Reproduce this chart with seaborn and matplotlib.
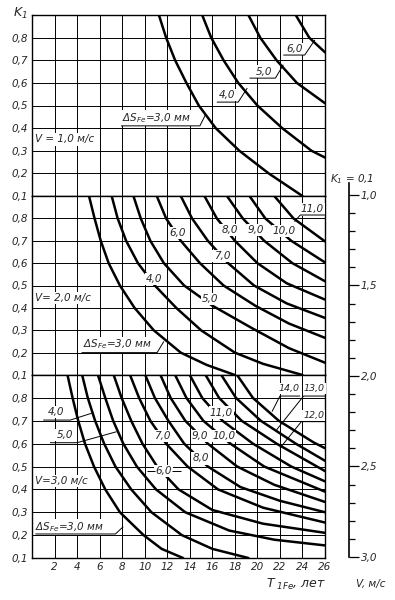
import numpy as np
import pandas as pd
import matplotlib
matplotlib.use("Agg")
import matplotlib.pyplot as plt
import seaborn as sns

# axes values
t_ticks = list(range(2, 27, 2))
k_ticks = [0.1, 0.2, 0.3, 0.4, 0.5, 0.6, 0.7, 0.8]
v_major = [1.0, 1.5, 2.0, 2.5, 3.0]
v_minor = [round(1.0 + 0.1 * i, 1) for i in range(21)]
speeds = ["1,0", "2,0", "3,0"]

# dS_Fe, mm -> (T_1Fe, years ; K_1)
top_curves = {
    3.0: ([11.26, 11.9, 12.7, 13.7, 14.8, 16.3, 18.4, 21.0, 24.0],
          [0.9, 0.8, 0.7, 0.6, 0.5, 0.4, 0.3, 0.2, 0.1]),
    4.0: ([15.1, 15.9, 17.0, 18.3, 20.0, 22.2, 24.8, 26.0],
          [0.9, 0.8, 0.7, 0.6, 0.5, 0.4, 0.3, 0.27]),
    5.0: ([19.2, 20.25, 21.7, 23.5, 26.0], [0.9, 0.8, 0.7, 0.6, 0.51]),
    6.0: ([23.4, 24.6, 26.0], [0.9, 0.8, 0.735]),
}
mid_curves = {
    3.0: ([5.06, 5.55, 6.1, 6.8, 7.8, 9.1, 10.8, 13.2, 15.5, 18.0],
          [0.9, 0.8, 0.7, 0.6, 0.5, 0.4, 0.3, 0.2, 0.145, 0.1]),
    4.0: ([7.07, 7.6, 8.35, 9.4, 10.9, 12.8, 15.0, 18.0, 20.5, 24.0],
          [0.9, 0.8, 0.7, 0.6, 0.5, 0.4, 0.3, 0.2, 0.15, 0.1]),
    5.0: ([9.0, 9.65, 10.5, 11.7, 13.5, 16.0, 19.5, 22.8, 26.0],
          [0.9, 0.8, 0.7, 0.6, 0.5, 0.41, 0.31, 0.22, 0.155]),
    6.0: ([11.07, 11.9, 13.2, 14.9, 17.0, 19.8, 22.8, 26.0],
          [0.9, 0.8, 0.7, 0.6, 0.5, 0.41, 0.33, 0.266]),
    7.0: ([13.2, 14.2, 15.6, 17.4, 19.7, 22.6, 26.0],
          [0.9, 0.8, 0.7, 0.6, 0.5, 0.42, 0.355]),
    8.0: ([15.3, 16.4, 18.0, 20.0, 22.6, 26.0],
          [0.9, 0.8, 0.7, 0.6, 0.51, 0.437]),
    9.0: ([17.3, 18.7, 20.6, 23.1, 26.0], [0.9, 0.8, 0.7, 0.6, 0.519]),
    10.0: ([19.3, 20.7, 23.0, 26.0], [0.9, 0.8, 0.7, 0.603]),
    11.0: ([21.5, 23.2, 26.0], [0.9, 0.8, 0.697]),
}
bot_curves = {
    3.0: ([3.15, 3.6, 4.1, 4.7, 5.5, 6.5, 7.8, 9.9, 11.5, 13.4],
          [0.9, 0.8, 0.7, 0.6, 0.5, 0.4, 0.3, 0.2, 0.14, 0.1]),
    4.0: ([4.45, 4.95, 5.6, 6.4, 7.4, 8.8, 10.6, 13.3, 16.0, 19.2],
          [0.9, 0.8, 0.7, 0.6, 0.5, 0.4, 0.3, 0.2, 0.14, 0.1]),
    5.0: ([5.85, 6.5, 7.2, 8.1, 9.3, 11.0, 13.6, 17.5, 21.5, 26.0],
          [0.9, 0.8, 0.7, 0.6, 0.5, 0.4, 0.3, 0.22, 0.18, 0.155]),
    6.0: ([7.25, 7.95, 8.8, 9.8, 11.1, 13.0, 16.0, 20.5, 26.0],
          [0.9, 0.8, 0.7, 0.6, 0.5, 0.4, 0.31, 0.25, 0.21]),
    7.0: ([8.7, 9.5, 10.5, 11.9, 13.8, 16.5, 20.5, 26.0],
          [0.9, 0.8, 0.7, 0.6, 0.5, 0.4, 0.32, 0.255]),
    8.0: ([10.05, 10.9, 12.1, 13.5, 15.6, 18.5, 22.0, 26.0],
          [0.9, 0.8, 0.7, 0.6, 0.5, 0.41, 0.35, 0.30]),
    9.0: ([11.4, 12.3, 13.6, 15.6, 18.2, 21.5, 26.0],
          [0.9, 0.8, 0.7, 0.6, 0.5, 0.42, 0.345]),
    10.0: ([12.7, 13.7, 15.2, 17.6, 20.6, 26.0], [0.9, 0.8, 0.7, 0.6, 0.5, 0.39]),
    11.0: ([14.0, 15.1, 16.9, 19.6, 23.0, 26.0], [0.9, 0.8, 0.7, 0.6, 0.5, 0.435]),
    12.0: ([15.4, 16.6, 18.6, 21.7, 26.0], [0.9, 0.8, 0.7, 0.6, 0.48]),
    13.0: ([16.8, 18.1, 20.3, 23.4, 26.0], [0.9, 0.8, 0.7, 0.6, 0.525]),
    14.0: ([18.2, 19.6, 21.9, 25.0, 26.0], [0.9, 0.8, 0.7, 0.605, 0.58]),
}


def comma(v):
    return f"{v:.1f}".replace(".", ",")


sns.set_theme(style="white")
plt.rcParams["font.family"] = ["DejaVu Sans"]
plt.rcParams["font.style"] = "italic"
plt.rcParams["mathtext.fontset"] = "dejavusans"
plt.rcParams["mathtext.default"] = "it"
FS = 7.5

W, H = 395, 600
fig = plt.figure(figsize=(W / 100, H / 100), dpi=100)


def box(l, t, r, b):
    return [l / W, 1 - b / H, (r - l) / W, (b - t) / H]


def tag(ax, s, x, y, ha="center", fs=FS):
    ax.text(x, y, s, ha=ha, va="center", fontsize=fs, zorder=6,
            bbox=dict(fc="white", ec="none", pad=0.8))


def line(ax, xs, ys):
    ax.plot(xs, ys, color="black", lw=0.7, zorder=7, solid_capstyle="butt")


panels = [(top_curves, 15, 196), (mid_curves, 196, 375), (bot_curves, 375, 558)]
axes = []
for i, (curves, t, b) in enumerate(panels):
    ax = fig.add_axes(box(32, t, 325, b))
    rows = [{"ds": ds, "T": x, "K": y}
            for ds, (xs, ys) in curves.items() for x, y in zip(xs, ys)]
    df = pd.DataFrame(rows)
    sns.lineplot(data=df, x="T", y="K", units="ds", estimator=None, sort=False,
                 color="black", lw=1.8, ax=ax, legend=False, zorder=3)
    ax.set_xlim(0, 26)
    ax.set_ylim(0.1, 0.9)
    ax.set_xticks([0] + t_ticks)
    ax.set_yticks(k_ticks + [0.9])
    ax.set_yticklabels([comma(v) for v in k_ticks] + [""], fontsize=FS)
    if i == 2:
        ax.set_xticklabels([""] + [str(v) for v in t_ticks], fontsize=FS)
    else:
        ax.set_xticklabels([])
    ax.tick_params(length=0, pad=3)
    ax.grid(True, color="black", lw=0.7)
    ax.set_axisbelow(True)
    for s in ax.spines.values():
        s.set_color("black")
        s.set_linewidth(1.0)
    ax.set_xlabel("")
    ax.set_ylabel("")
    axes.append(ax)

ds_text = r"$\Delta S_{Fe}$=3,0 мм"
a1, a2, a3 = axes

# top panel, V = 1,0
tag(a1, f"V = {speeds[0]} м/с", 0.3, 0.35, ha="left")
tag(a1, ds_text, 8.0, 0.445, ha="left")
line(a1, [7.9, 14.9, 15.4], [0.41, 0.41, 0.46])
tag(a1, "4,0", 17.3, 0.545)
line(a1, [16.4, 18.3, 19.1], [0.515, 0.515, 0.577])
tag(a1, "5,0", 20.6, 0.65)
line(a1, [19.3, 21.6, 22.3], [0.621, 0.621, 0.68])
tag(a1, "6,0", 23.3, 0.75)
line(a1, [22.3, 24.2, 25.1], [0.723, 0.723, 0.79])

# middle panel, V = 2,0
tag(a2, f"V= {speeds[1]} м/с", 0.3, 0.443, ha="left")
tag(a2, ds_text, 4.5, 0.236, ha="left")
line(a2, [4.4, 11.1, 11.7], [0.2, 0.2, 0.25])
for s, x, y in [("4,0", 10.85, 0.53), ("5,0", 15.8, 0.44), ("6,0", 12.95, 0.734),
                ("7,0", 16.85, 0.633), ("8,0", 17.55, 0.749), ("9,0", 19.9, 0.749),
                ("10,0", 22.4, 0.745)]:
    tag(a2, s, x, y)
tag(a2, "11,0", 24.85, 0.84)
line(a2, [26.0, 23.8, 23.3], [0.815, 0.815, 0.785])

# bottom panel, V = 3,0
tag(a3, "4,0", 2.1, 0.738)
line(a3, [1.0, 3.4, 5.3], [0.703, 0.703, 0.733])
tag(a3, "5,0", 2.9, 0.638)
line(a3, [1.6, 4.0, 7.5], [0.604, 0.604, 0.652])
tag(a3, f"V={speeds[2]} м/с", 0.3, 0.437, ha="left")
tag(a3, ds_text, 0.3, 0.235, ha="left")
line(a3, [0.3, 7.4, 8.1], [0.205, 0.205, 0.237])
line(a3, [10.2, 10.9], [0.48, 0.48])
line(a3, [12.4, 13.2], [0.48, 0.48])
for s, x, y in [("7,0", 11.55, 0.633), ("6,0", 11.65, 0.48), ("9,0", 14.9, 0.633),
                ("10,0", 17.0, 0.633), ("8,0", 14.95, 0.535), ("11,0", 16.8, 0.736)]:
    tag(a3, s, x, y)
tag(a3, "14,0", 22.85, 0.84, fs=6.8)
line(a3, [23.8, 22.0, 21.3], [0.808, 0.808, 0.74])
tag(a3, "13,0", 25.05, 0.84, fs=6.8)
line(a3, [26.0, 24.1, 21.7], [0.808, 0.808, 0.66])
tag(a3, "12,0", 25.0, 0.722, fs=6.8)
line(a3, [26.0, 23.9, 22.0], [0.696, 0.696, 0.58])

# speed scale on the right
av = fig.add_axes(box(300, 183, 349, 557))
av.set_ylim(3.0, 0.934)
av.set_xticks([])
for k in ["left", "top", "bottom"]:
    av.spines[k].set_visible(False)
av.spines["right"].set_color("black")
av.spines["right"].set_linewidth(1.2)
av.patch.set_alpha(0)
av.yaxis.tick_right()
av.set_yticks(v_major)
av.set_yticklabels([comma(v) for v in v_major], fontsize=FS)
av.set_yticks(v_minor, minor=True)
av.tick_params(axis="y", which="major", direction="out", length=7, width=0.9,
               color="black", pad=1.5, right=True, left=False)
av.tick_params(axis="y", which="minor", direction="out", length=4, width=0.9,
               color="black", right=True, left=False)

fig.text(13 / W, 1 - 13 / H, r"$K_1$", fontsize=FS + 1.5, va="center")
fig.text(330 / W, 1 - 179 / H, r"$K_1$ = 0,1", fontsize=FS, va="center")
fig.text(356 / W, 1 - 584 / H, "V, м/с", fontsize=FS, va="center")
fig.text(266 / W, 1 - 584 / H, r"$T_{\ 1Fe}$, лет", fontsize=FS + 1.5, va="center")

fig.savefig("out.png", dpi=100)
